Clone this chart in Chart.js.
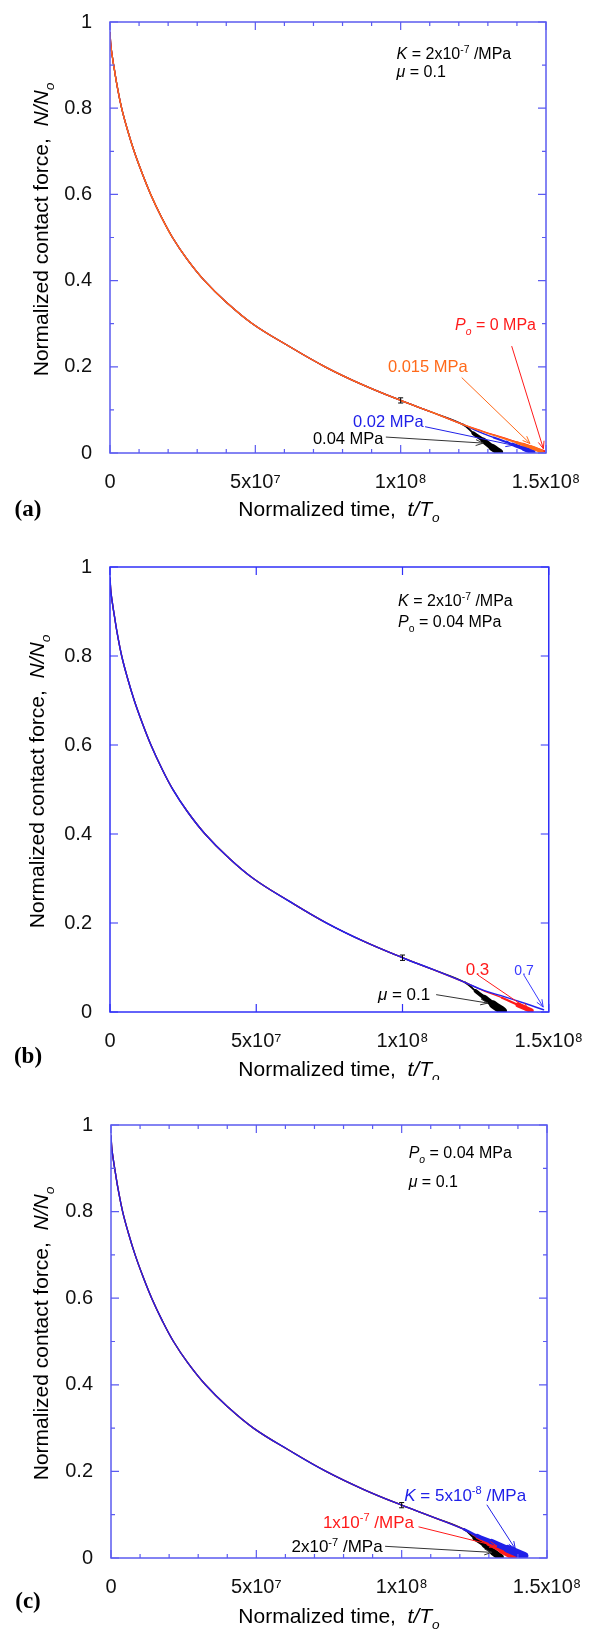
<!DOCTYPE html>
<html>
<head>
<meta charset="utf-8">
<script src="https://cdn.jsdelivr.net/npm/chart.js@4.4.1/dist/chart.umd.min.js"></script>
<style>
body { margin: 0; background: #fff; }
canvas { position: absolute; left: 0; }
</style>
</head>
<body>
<canvas id="chartA" width="592" height="540" style="top:0px"></canvas>
<canvas id="chartB" width="592" height="540" style="top:540px"></canvas>
<canvas id="chartC" width="592" height="555" style="top:1080px"></canvas>
<script>
// common decay curve, identical for every run until they split near t = 1.2x10^8
var mainT = [0, 0.3e6, 0.8e6, 1.5e6, 2.5e6, 4.0e6, 6.0e6, 8.3e6, 11e6, 14e6, 17.5e6, 21.5e6,
             26.5e6, 32.5e6, 40e6, 49e6, 61e6, 74e6, 87e6, 100e6, 111e6, 121.5e6];
var mainN = [0.975, 0.945, 0.92, 0.89, 0.85, 0.80, 0.75, 0.70, 0.65, 0.60, 0.55, 0.50,
             0.45, 0.40, 0.35, 0.30, 0.25, 0.20, 0.158, 0.122, 0.094, 0.066];

// (a) K = 2x10^-7 /MPa, mu = 0.1, varying Po
var tailA_P0T = [128e6, 135e6, 142e6, 149.3e6];
var tailA_P0N = [0.051, 0.036, 0.021, 0.004];
var tailA_P015T = [128e6, 134e6, 140e6, 145e6, 148.5e6];
var tailA_P015N = [0.050, 0.037, 0.024, 0.013, 0.004];
var tailA_P02T = [127e6, 132e6, 138.5e6, 142.5e6, 145.5e6];
var tailA_P02N = [0.049, 0.036, 0.020, 0.010, 0.002];
var tailA_P04T = [125e6, 128.5e6, 131.5e6, 134e6];
var tailA_P04N = [0.046, 0.029, 0.013, 0.002];

// (b) K = 2x10^-7 /MPa, Po = 0.04 MPa, varying mu
var tailB_mu07T = [128e6, 135e6, 142e6, 148.2e6];
var tailB_mu07N = [0.048, 0.034, 0.019, 0.005];
var tailB_mu03T = [128e6, 134e6, 139.5e6, 144e6];
var tailB_mu03N = [0.047, 0.032, 0.016, 0.003];
var tailB_mu01T = [125e6, 128e6, 131e6, 134.3e6];
var tailB_mu01N = [0.047, 0.032, 0.017, 0.002];

// (c) Po = 0.04 MPa, mu = 0.1, varying K
var tailC_K5e8T = [126e6, 131e6, 136.5e6, 142.2e6];
var tailC_K5e8N = [0.051, 0.037, 0.021, 0.005];
var tailC_K1e7T = [126e6, 130e6, 134.5e6, 138.5e6];
var tailC_K1e7N = [0.048, 0.034, 0.018, 0.003];
var tailC_K2e7T = [125e6, 128.5e6, 131.5e6, 133.9e6];
var tailC_K2e7N = [0.046, 0.030, 0.014, 0.002];

// error bar at 1x10^8
var errT = [1e8];
var errN = [0.122];
var errHalf = [0.006];

var xTicks = [0, 5e7, 1e8, 1.5e8];
var xTickLabels = ["0", "5x10\u2077", "1x10\u2078", "1.5x10\u2078"];
var yTicks = [0, 0.2, 0.4, 0.6, 0.8, 1];
var yTickLabels = ["0", "0.2", "0.4", "0.6", "0.8", "1"];

var FONT = '"Liberation Sans", Arial, Helvetica, sans-serif';
var RED = "#ff1a1a", ORANGE = "#ff6a1a", BLUE = "#2020e8";

function series(tailT, tailN) {
  var t = mainT.concat(tailT), n = mainN.concat(tailN);
  return t.map(function (v, i) { return { x: v, y: n[i] }; });
}

function line(label, tailT, tailN, color, bandFrom, bandMax, lw) {
  var endX = tailT[tailT.length - 1];
  lw = lw || 1.3;
  return {
    label: label,
    data: series(tailT, tailN),
    showLine: true,
    borderColor: color,
    backgroundColor: color,
    borderWidth: lw,
    borderCapStyle: "round",
    pointRadius: 0,
    tension: 0.4,
    segment: {
      borderWidth: function (ctx) {
        var x = ctx.p1.parsed.x;
        if (x <= bandFrom) return lw;
        return lw + (bandMax - lw) * (x - bandFrom) / (endX - bandFrom);
      }
    }
  };
}

function drawRich(ctx, parts, x, y, size, color, align) {
  var segs = parts.map(function (p) {
    var st = p[1] || "";
    var small = st.indexOf("sup") >= 0 || st.indexOf("sub") >= 0;
    var fs = small ? size * 0.65 : size;
    var font = (st.charAt(0) === "i" ? "italic " : "") + fs + "px " + FONT;
    ctx.font = font;
    var dy = /sup$/.test(st) ? -size * 0.4 : (/sub$/.test(st) ? size * 0.3 : 0);
    return { t: p[0], font: font, w: ctx.measureText(p[0]).width, dy: dy };
  });
  var total = segs.reduce(function (s, g) { return s + g.w; }, 0);
  var cx = align === "center" ? x - total / 2 : x;
  ctx.fillStyle = color;
  ctx.textAlign = "left";
  ctx.textBaseline = "alphabetic";
  segs.forEach(function (g) {
    ctx.font = g.font;
    ctx.fillText(g.t, cx, y + size * 0.36 + g.dy);
    cx += g.w;
  });
}

function arrow(ctx, x1, y1, x2, y2, color) {
  var a = Math.atan2(y2 - y1, x2 - x1), h = 8, s = 0.38;
  ctx.strokeStyle = color;
  ctx.lineWidth = 1;
  ctx.beginPath();
  ctx.moveTo(x1, y1); ctx.lineTo(x2, y2);
  ctx.moveTo(x2 - h * Math.cos(a - s), y2 - h * Math.sin(a - s));
  ctx.lineTo(x2, y2);
  ctx.lineTo(x2 - h * Math.cos(a + s), y2 - h * Math.sin(a + s));
  ctx.stroke();
}

var decor = {
  id: "decor",
  afterDatasetsDraw: function (chart, args, o) {
    var ctx = chart.ctx, ca = chart.chartArea;
    var xs = chart.scales.x, ys = chart.scales.y;
    ctx.save();
    // error bar
    ctx.strokeStyle = "#000"; ctx.lineWidth = 1;
    errT.forEach(function (t, i) {
      var px = xs.getPixelForValue(t);
      var p1 = ys.getPixelForValue(errN[i] + errHalf[i]);
      var p2 = ys.getPixelForValue(errN[i] - errHalf[i]);
      ctx.beginPath();
      ctx.moveTo(px, p1); ctx.lineTo(px, p2);
      ctx.moveTo(px - 2.5, p1); ctx.lineTo(px + 2.5, p1);
      ctx.moveTo(px - 2.5, p2); ctx.lineTo(px + 2.5, p2);
      ctx.stroke();
    });
    // frame and inward ticks
    ctx.strokeStyle = o.frame; ctx.lineWidth = 1.5;
    ctx.strokeRect(ca.left, ca.top, ca.right - ca.left, ca.bottom - ca.top);
    ctx.lineWidth = 1.2;
    ctx.beginPath();
    for (var v = xs.min; v <= xs.max + 1; v += o.minorX) {
      var px = xs.getPixelForValue(v);
      var len = Math.abs(v / 5e7 - Math.round(v / 5e7)) < 1e-6 ? 8 : 4;
      ctx.moveTo(px, ca.bottom); ctx.lineTo(px, ca.bottom - len);
      ctx.moveTo(px, ca.top); ctx.lineTo(px, ca.top + len);
    }
    for (var w = ys.min; w <= ys.max + 1e-9; w += o.minorY) {
      var py = ys.getPixelForValue(w);
      var ln = Math.abs(w / 0.2 - Math.round(w / 0.2)) < 1e-6 ? 8 : 4;
      ctx.moveTo(ca.left, py); ctx.lineTo(ca.left + ln, py);
      ctx.moveTo(ca.right, py); ctx.lineTo(ca.right - ln, py);
    }
    ctx.stroke();
    // arrows and labels
    o.arrows.forEach(function (a) {
      arrow(ctx, xs.getPixelForValue(a.from[0]), ys.getPixelForValue(a.from[1]),
            xs.getPixelForValue(a.to[0]), ys.getPixelForValue(a.to[1]), a.color);
    });
    o.notes.forEach(function (n) {
      drawRich(ctx, n.parts, xs.getPixelForValue(n.x), ys.getPixelForValue(n.y), n.size, n.color, "left");
    });
    // axis titles
    drawRich(ctx, [["Normalized time,  "], ["t/T", "i"], ["o", "isub"]],
             339, o.xTitleY, 21, "#000", "center");
    ctx.save();
    ctx.translate(o.yTitleX, (ca.top + ca.bottom) / 2 - 8);
    ctx.rotate(-Math.PI / 2);
    drawRich(ctx, [["Normalized contact force,  "], ["N/N", "i"], ["o", "isub"]],
             0, 0, 21, "#000", "center");
    ctx.restore();
    // panel letter
    ctx.font = "bold 23px \"Liberation Serif\", \"Times New Roman\", serif";
    ctx.fillStyle = "#000"; ctx.textAlign = "center"; ctx.textBaseline = "middle";
    ctx.fillText(o.letter, 28, o.letterY);
    ctx.restore();
  }
};

function makePanel(id, p) {
  new Chart(id, {
    type: "scatter",
    data: { datasets: p.datasets },
    options: {
      responsive: false,
      animation: false,
      layout: { autoPadding: false, padding: { top: p.area.top, right: 592 - p.area.right, left: 0, bottom: 0 } },
      plugins: { legend: { display: false }, tooltip: { enabled: false }, decor: p.decor },
      scales: {
        x: {
          type: "linear", min: 0, max: 1.5e8,
          grid: { display: false }, border: { display: false },
          afterBuildTicks: function (s) { s.ticks = xTicks.map(function (v) { return { value: v }; }); },
          afterFit: function (s) { s.height = p.canvasH - p.area.bottom; },
          ticks: {
            autoSkip: false, maxRotation: 0, padding: 9, color: "#111",
            font: { family: FONT, size: 20 },
            callback: function (v, i) { return xTickLabels[i]; }
          }
        },
        y: {
          type: "linear", min: 0, max: 1,
          grid: { display: false }, border: { display: false },
          afterBuildTicks: function (s) { s.ticks = yTicks.map(function (v) { return { value: v }; }); },
          afterFit: function (s) { s.width = p.area.left; },
          ticks: {
            padding: 10, color: "#111",
            font: { family: FONT, size: 20 },
            callback: function (v, i) { return yTickLabels[i]; }
          }
        }
      }
    },
    plugins: [decor]
  });
}

makePanel("chartA", {
  area: { top: 18, right: 546, bottom: 453, left: 110 }, canvasH: 540,
  datasets: [
    line("0.015 MPa", tailA_P015T, tailA_P015N, ORANGE, 139e6, 4, 1.4),
    line("0 MPa", tailA_P0T, tailA_P0N, RED, 142e6, 2.5),
    line("0.02 MPa", tailA_P02T, tailA_P02N, BLUE, 137e6, 5),
    line("0.04 MPa", tailA_P04T, tailA_P04N, "#000", 124e6, 7)
  ],
  decor: {
    frame: "#5b5bf0", minorX: 1e7, minorY: 0.1, xTitleY: 508, yTitleX: 40, letter: "(a)", letterY: 510,
    notes: [
      { x: 98.6e6, y: 0.927, size: 16, color: "#000", parts: [["K", "i"], [" = 2x10"], ["-7", "sup"], [" /MPa"]] },
      { x: 98.6e6, y: 0.886, size: 16, color: "#000", parts: [["\u03bc", "i"], [" = 0.1"]] },
      { x: 118.7e6, y: 0.299, size: 16, color: RED, parts: [["P", "i"], ["o", "isub"], [" = 0 MPa"]] },
      { x: 95.6e6, y: 0.202, size: 16.5, color: ORANGE, parts: [["0.015 MPa"]] },
      { x: 83.6e6, y: 0.075, size: 16.5, color: BLUE, parts: [["0.02 MPa"]] },
      { x: 69.8e6, y: 0.035, size: 16.5, color: "#000", parts: [["0.04 MPa"]] }
    ],
    arrows: [
      { from: [138.2e6, 0.248], to: [149.1e6, 0.010], color: RED },
      { from: [121.0e6, 0.175], to: [144.5e6, 0.022], color: ORANGE },
      { from: [108.4e6, 0.061], to: [138.7e6, 0.018], color: BLUE },
      { from: [94.9e6, 0.037], to: [128.4e6, 0.023], color: "#333" }
    ]
  }
});

makePanel("chartB", {
  area: { top: 27, right: 555, bottom: 472, left: 110 }, canvasH: 540,
  datasets: [
    line("0.7", tailB_mu07T, tailB_mu07N, "#2222f0", 150e6, 1.5, 1.5),
    line("0.3", tailB_mu03T, tailB_mu03N, RED, 138e6, 5),
    line("0.1", tailB_mu01T, tailB_mu01N, "#000", 124e6, 8)
  ],
  decor: {
    frame: "#3030f8", minorX: 5e7, minorY: 0.2, xTitleY: 528, yTitleX: 36, letter: "(b)", letterY: 517,
    notes: [
      { x: 98.5e6, y: 0.925, size: 16, color: "#000", parts: [["K", "i"], [" = 2x10"], ["-7", "sup"], [" /MPa"]] },
      { x: 98.5e6, y: 0.877, size: 16, color: "#000", parts: [["P", "i"], ["o", "sub"], [" = 0.04 MPa"]] },
      { x: 121.6e6, y: 0.096, size: 17, color: RED, parts: [["0.3"]] },
      { x: 138.2e6, y: 0.095, size: 14, color: "#3a3aff", parts: [["0.7"]] },
      { x: 91.6e6, y: 0.040, size: 17, color: "#000", parts: [["\u03bc", "i"], [" = 0.1"]] }
    ],
    arrows: [
      { from: [111.5e6, 0.039], to: [129.2e6, 0.020], color: "#333" },
      { from: [125.8e6, 0.083], to: [143.2e6, 0.005], color: RED },
      { from: [141.5e6, 0.083], to: [148.1e6, 0.011], color: "#3a3aff" }
    ]
  }
});

makePanel("chartC", {
  area: { top: 45, right: 547, bottom: 478, left: 111 }, canvasH: 555,
  datasets: [
    line("5x10-8", tailC_K5e8T, tailC_K5e8N, BLUE, 123e6, 8, 1.4),
    line("1x10-7", tailC_K1e7T, tailC_K1e7N, RED, 125e6, 7),
    line("2x10-7", tailC_K2e7T, tailC_K2e7N, "#000", 124e6, 7)
  ],
  decor: {
    frame: "#5b5bf0", minorX: 1e7, minorY: 0.1, xTitleY: 535, yTitleX: 40, letter: "(c)", letterY: 522,
    notes: [
      { x: 102.4e6, y: 0.936, size: 16, color: "#000", parts: [["P", "i"], ["o", "isub"], [" = 0.04 MPa"]] },
      { x: 102.4e6, y: 0.869, size: 16, color: "#000", parts: [["\u03bc", "i"], [" = 0.1"]] },
      { x: 100.9e6, y: 0.146, size: 17, color: BLUE, parts: [["K", "i"], [" = 5x10"], ["-8", "sup"], [" /MPa"]] },
      { x: 72.9e6, y: 0.0845, size: 17, color: RED, parts: [["1x10"], ["-7", "sup"], [" /MPa"]] },
      { x: 62.1e6, y: 0.027, size: 17, color: "#000", parts: [["2x10"], ["-7", "sup"], [" /MPa"]] }
    ],
    arrows: [
      { from: [129.3e6, 0.123], to: [139.1e6, 0.021], color: BLUE },
      { from: [105.8e6, 0.072], to: [132.8e6, 0.027], color: RED },
      { from: [94.3e6, 0.027], to: [131.0e6, 0.013], color: "#333" }
    ]
  }
});
</script>
</body>
</html>
